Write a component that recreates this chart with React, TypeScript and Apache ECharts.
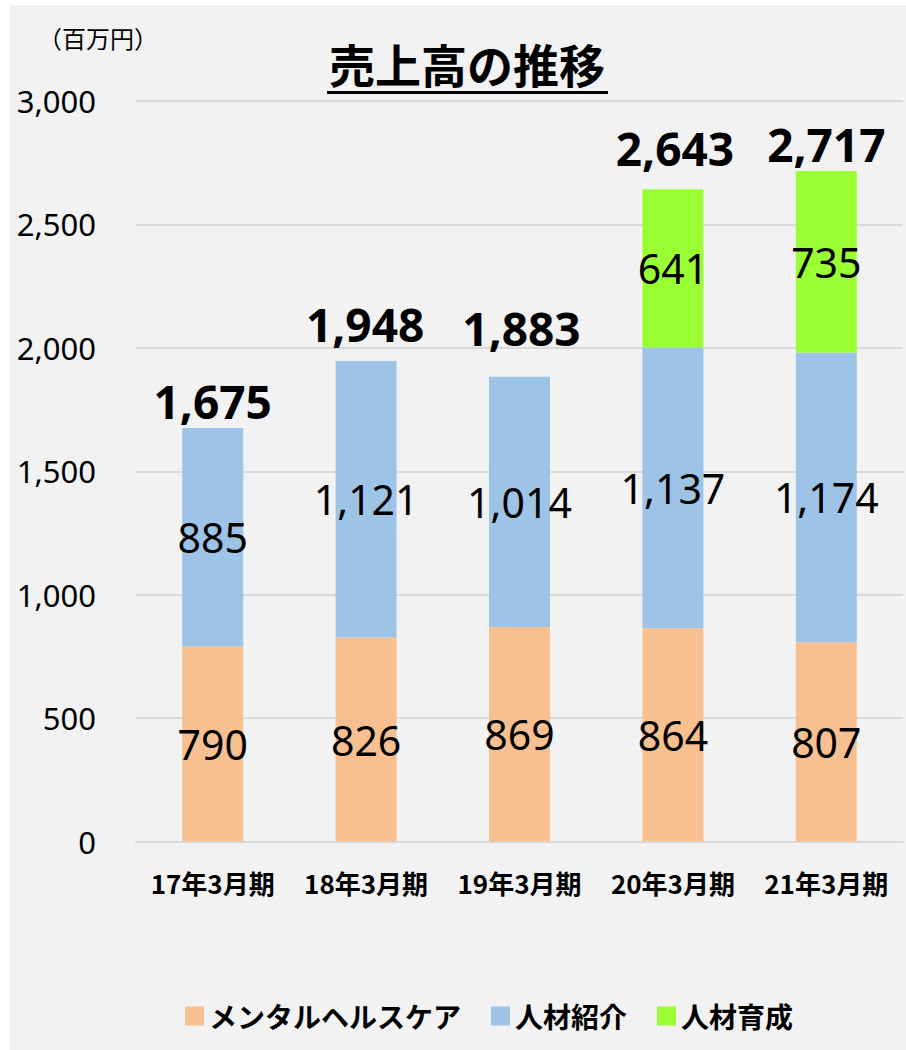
import React, { useEffect, useRef } from "react";
import * as echarts from "echarts";

const categories = ["17年3月期", "18年3月期", "19年3月期", "20年3月期", "21年3月期"];
const mentalHealth = [790, 826, 869, 864, 807];
const recruitment = [885, 1121, 1014, 1137, 1174];
const training = [null, null, null, 641, 735];
const totals = [1675, 1948, 1883, 2643, 2717];
const seriesNames = ["メンタルヘルスケア", "人材紹介", "人材育成"];
const colors = ["#F8C090", "#9DC3E6", "#99FF33"];
const yTicks = { min: 0, max: 3000, interval: 500 };

const NUM_FONT = "'Noto Sans', 'Noto Sans CJK JP', sans-serif";
const CJK_FONT = "'Noto Sans CJK JP', 'Noto Sans', sans-serif";
const fmt = (v: number) => v.toLocaleString("en-US");

export default function App() {
  const ref = useRef<HTMLDivElement>(null);
  useEffect(() => {
    if (!ref.current) return;
    const chart = echarts.init(ref.current, null, { renderer: "svg" });
    const segLabel = {
      show: true,
      position: "inside",
      color: "#000",
      fontFamily: NUM_FONT,
      fontSize: 41,
      formatter: (p: any) => fmt(p.value),
    };
    // manual nudges of the total labels, as placed in the original
    const totalLabelNudge = [
      [0, 0],
      [-1, -9],
      [2, -21],
      [2, -14],
      [0, 1],
    ];
    const values = [mentalHealth, recruitment, training];
    chart.setOption({
      animation: false,
      backgroundColor: "#F2F2F2",
      grid: { left: 126, right: 3, top: 96, bottom: 208.5 },
      legend: {
        data: seriesNames,
        left: 170,
        top: 992,
        itemWidth: 19,
        itemHeight: 19,
        itemGap: 30,
        icon: "rect",
        textStyle: { fontFamily: CJK_FONT, fontWeight: "bold", fontSize: 28, color: "#000" },
      },
      graphic: [
        {
          type: "text",
          left: 28,
          top: 20,
          style: { text: "（百万円）", fontFamily: CJK_FONT, fontSize: 24, fill: "#000" },
        },
        {
          type: "text",
          x: 457,
          y: 58,
          style: {
            text: "売上高の推移",
            fontFamily: CJK_FONT,
            fontWeight: "bold",
            fontSize: 46,
            fill: "#000",
            align: "center",
            verticalAlign: "middle",
          },
        },
        {
          type: "rect",
          shape: { x: 317, y: 86, width: 281, height: 3 },
          style: { fill: "#000" },
        },
      ],
      xAxis: {
        type: "category",
        data: categories,
        axisTick: { show: false },
        axisLine: { lineStyle: { color: "#D9D9D9", width: 2 } },
        axisLabel: {
          interval: 0,
          margin: 28,
          color: "#000",
          fontFamily: CJK_FONT,
          fontWeight: "bold",
          fontSize: 26,
        },
      },
      yAxis: {
        type: "value",
        ...yTicks,
        axisLine: { show: false },
        axisTick: { show: false },
        splitLine: { lineStyle: { color: "#D9D9D9", width: 2 } },
        axisLabel: {
          margin: 40,
          color: "#000",
          fontFamily: NUM_FONT,
          fontSize: 31,
          formatter: (v: number) => fmt(v),
        },
      },
      series: [
        ...seriesNames.map((name, i) => ({
          name,
          type: "bar",
          stack: "total",
          barWidth: 61,
          data: values[i],
          itemStyle: { color: colors[i] },
          label: segLabel,
        })),
        {
          name: "合計",
          type: "scatter",
          data: totals.map((v, i) => ({
            value: v,
            label: { offset: totalLabelNudge[i] },
          })),
          symbolSize: 1,
          itemStyle: { color: "rgba(0,0,0,0)", opacity: 1 },
          label: {
            show: true,
            position: "top",
            distance: 4,
            color: "#000",
            opacity: 1,
            fontFamily: NUM_FONT,
            fontWeight: "bold",
            fontSize: 46,
            formatter: (p: any) => fmt(p.value),
          },
          silent: true,
        },
      ],
    });
    return () => chart.dispose();
  }, []);
  return (
    <div
      ref={ref}
      style={{ position: "absolute", left: 10, top: 5, width: 896, height: 1045 }}
    />
  );
}
